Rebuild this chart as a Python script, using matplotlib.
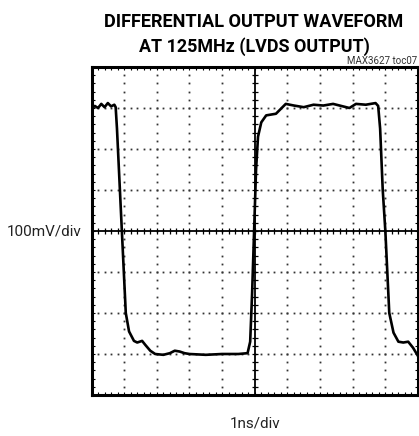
import numpy as np
import matplotlib
matplotlib.use("Agg")
import matplotlib.pyplot as plt

# Waveform samples (time in ns, voltage in mV)
time_ns = [0.0, 0.1, 0.2, 0.3, 0.4, 0.5, 0.6, 0.7, 0.74, 0.78, 0.84, 0.93, 0.99,
           1.05, 1.15, 1.3, 1.4, 1.55, 1.65, 1.8, 1.95, 2.2, 2.4, 2.55, 2.7, 2.85,
           3.0, 3.5, 4.0, 4.5, 4.78, 4.86, 4.92, 4.98, 5.04, 5.1, 5.2, 5.35, 5.5,
           5.65, 5.8, 5.95, 6.2, 6.5, 6.8, 7.1, 7.4, 7.7, 7.9, 8.1, 8.4, 8.7, 8.78,
           8.84, 8.92, 9.0, 9.06, 9.12, 9.25, 9.4, 9.55, 9.7, 9.85, 10.0]
volt_mv = [298, 305, 300, 310, 302, 312, 304, 308, 302, 250, 150, 0, -100,
           -200, -245, -268, -272, -268, -278, -292, -300, -302, -298, -292, -294, -298,
           -300, -302, -300, -300, -298, -270, -150, 0, 150, 230, 265, 282, 284,
           286, 298, 310, 306, 302, 308, 306, 310, 304, 300, 310, 308, 312, 305,
           250, 100, 0, -100, -200, -248, -270, -272, -270, -285, -305]

title_lines = ["DIFFERENTIAL OUTPUT WAVEFORM", "AT 125MHz (LVDS OUTPUT)"]
y_label = "100mV/div"
x_label = "1ns/div"
note_text = "MAX3627 toc07"

narrow = ["Roboto", "DejaVu Sans"]

fig = plt.figure(figsize=(4.19, 4.36), dpi=100)
ax = fig.add_axes([91.5 / 419, 41 / 436, 326.5 / 419, 328 / 436])

x0, x1 = 0, 10
y0, y1 = -400, 400
ax.set_xlim(x0, x1)
ax.set_ylim(y0, y1)

# dotted graticule
for gx in range(1, 10):
    if gx == 5:
        continue
    ys = np.arange(y0 + 20, y1, 20)
    ax.plot(np.full_like(ys, gx, dtype=float), ys, ls="none", marker="s",
            ms=1.3, mec="none", mfc="#333333", zorder=1)
for gy in range(-300, 400, 100):
    if gy == 0:
        continue
    xs = np.arange(x0 + 0.2, x1, 0.2)
    ax.plot(xs, np.full_like(xs, gy), ls="none", marker="s",
            ms=1.3, mec="none", mfc="#333333", zorder=1)

# center cross with tick marks
ax.axhline(0, color="black", lw=1.3, zorder=2)
ax.axvline(5, color="black", lw=1.3, zorder=2)
xs = np.arange(x0 + 0.2, x1, 0.2)
ax.plot(xs, np.zeros_like(xs), ls="none", marker="|", ms=5, mew=0.9,
        color="black", zorder=2)
ys = np.arange(y0 + 20, y1, 20)
ax.plot(np.full_like(ys, 5.0, dtype=float), ys, ls="none", marker="_", ms=5,
        mew=0.9, color="black", zorder=2)

# trace
ax.plot(time_ns, volt_mv, color="black", lw=1.9, solid_joinstyle="round", zorder=3)

# frame
for s in ax.spines.values():
    s.set_linewidth(2.2)
ax.set_xticks(np.arange(x0, x1 + 0.01, 1))
ax.set_xticks(np.arange(x0, x1 + 0.01, 0.2), minor=True)
ax.set_yticks(np.arange(y0, y1 + 1, 100))
ax.set_yticks(np.arange(y0, y1 + 1, 20), minor=True)
ax.tick_params(which="both", direction="in", length=2.5, width=0.8,
               top=True, right=True, labelbottom=False, labelleft=False)

t1 = fig.text(254 / 419, 1 - 22 / 436, title_lines[0], ha="center", va="center",
              fontsize=14, fontweight="bold", family=narrow)
t2 = fig.text(254.5 / 419, 1 - 47 / 436, title_lines[1], ha="center", va="center",
              fontsize=14, fontweight="bold", family=narrow)
fig.text(417 / 419, 1 - 61 / 436, note_text, ha="right", va="center",
         fontsize=7, family=narrow, color="#333333")
fig.text(44 / 419, 1 - 231 / 436, y_label, ha="center", va="center",
         fontsize=11, family=narrow, color="#222222")
fig.text(255 / 419, 1 - 423 / 436, x_label, ha="center", va="center",
         fontsize=11, family=narrow, color="#222222")

# fit title line widths to the reference (~302 px and ~231 px)
renderer = fig.canvas.get_renderer()
for t, target in ((t1, 302.0), (t2, 231.0)):
    w = t.get_window_extent(renderer).width
    if w > 0:
        t.set_fontsize(14 * target / w)

fig.savefig("out.png", dpi=100)
